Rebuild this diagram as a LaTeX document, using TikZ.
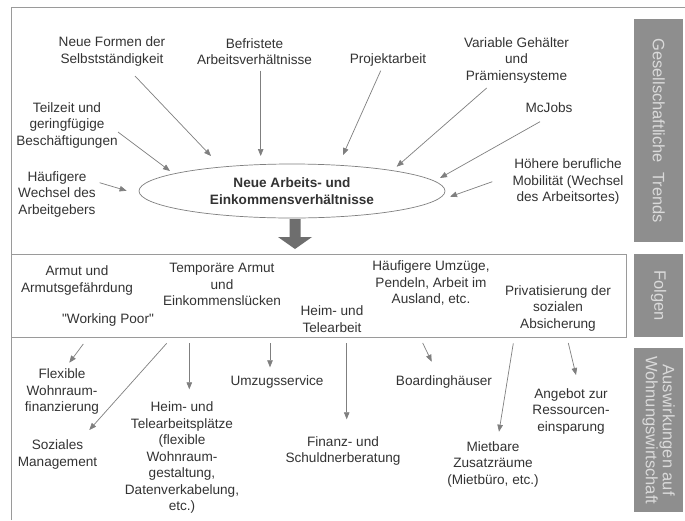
\documentclass[tikz,border=0pt]{standalone}
\usepackage{fontspec}
\setmainfont{Liberation Sans}
\newfontfamily\plainq{Liberation Sans}[Ligatures=TeXOff]
\usetikzlibrary{arrows.meta,shapes.geometric}
\definecolor{txt}{HTML}{333333}
\definecolor{arr}{HTML}{7F7F7F}
\definecolor{sidefill}{HTML}{8E8E8E}
\definecolor{sidetxt}{HTML}{DADADA}
\definecolor{framec}{HTML}{9A9A9A}
\definecolor{bigarr}{HTML}{6E6E6E}
\begin{document}
\begin{tikzpicture}[x=1pt,y=-1pt,
  lbl/.style={align=center,inner sep=0pt,text=txt,font=\fontsize{13.6}{16.5}\selectfont},
  conn/.style={draw=arr,line width=0.7pt,-{Triangle[length=7pt,width=5.5pt]}},
  sidebox/.style={fill=sidefill,draw=none,anchor=north west,inner sep=0pt,minimum width=49pt},
  sidelbl/.style={rotate=-90,text=sidetxt,font=\fontsize{16.5}{17}\selectfont,align=center,inner sep=0pt}]
\useasboundingbox (0,0) rectangle (685,520);
\fill[white] (0,0) rectangle (685,520);
% frame
\draw[framec,line width=0.8pt] (11,520) -- (11,7) -- (685,7);
% side boxes
\node[sidebox,minimum height=223pt] (g1) at (634,19) {};
\node[sidebox,minimum height=83pt] (g2) at (634,254) {};
\node[sidebox,minimum height=164pt] (g3) at (634,348) {};
\node[sidelbl] (g1t) at (g1.center) {Gesellschaftliche\ \ Trends};
\node[sidelbl] (g2t) at (g2.center) {Folgen};
\node[sidelbl] (g3t) at (g3.center) {Auswirkungen auf\\Wohnungswirtschaft};
% Folgen box
\node[draw=framec,line width=0.8pt,fill=white,anchor=north west,inner sep=0pt,minimum width=615pt,minimum height=83pt] (fb) at (11,254) {};
% top texts
\node[lbl] (nf) at (112,51.5) {Neue Formen der\\Selbstständigkeit};
\node[lbl] (bf) at (254.5,51.5) {Befristete\\Arbeitsverhältnisse};
\node[lbl] (pa) at (388,60) {Projektarbeit};
\node[lbl] (vg) at (516.5,60) {Variable Gehälter\\und\\Prämiensysteme};
\node[lbl] (mc) at (549,108) {McJobs};
\node[lbl] (tz) at (67,125) {Teilzeit und\\geringfügige\\Beschäftigungen};
\node[lbl] (hw) at (57,194) {Häufigere\\Wechsel des\\Arbeitgebers};
\node[lbl] (hm) at (568,181.5) {Höhere berufliche\\Mobilität (Wechsel\\des Arbeitsortes)};
\node[ellipse,draw=arr,line width=0.7pt,minimum width=306pt,minimum height=54pt,inner sep=0pt,align=center,text=txt,font=\bfseries\fontsize{13.6}{17}\selectfont] (el) at (292,191) {Neue Arbeits- und\\Einkommensverhältnisse};
% top arrow coordinates
\coordinate (a1s) at (135,76);   \coordinate (a1e) at (211,156);
\coordinate (a2s) at (260.7,70.7); \coordinate (a2e) at (260.7,156);
\coordinate (a3s) at (380.7,70.7); \coordinate (a3e) at (343,155);
\coordinate (a4s) at (486.7,88); \coordinate (a4e) at (396.7,166.7);
\coordinate (a5s) at (540,121.7); \coordinate (a5e) at (440,178);
\coordinate (a6s) at (118,132); \coordinate (a6e) at (170,171);
\coordinate (a7s) at (99.6,182.7); \coordinate (a7e) at (126.6,190.7);
\coordinate (a8s) at (492.3,181.7); \coordinate (a8e) at (450,196.7);
\foreach \i in {1,...,8} {\draw[conn] (a\i s) -- (a\i e);}
% big arrow
\fill[bigarr] (289.5,219) -- (300.5,219) -- (300.5,237) -- (312,237) -- (295,249) -- (278,237) -- (289.5,237) -- cycle;
% Folgen texts
\node[lbl] (am) at (77,280.5) {Armut und\\Armutsgefährdung};
\node[lbl] (wp) at (108,320) {\plainq "Working Poor"};
\node[lbl] (ta) at (222,284.5) {Temporäre Armut\\und\\Einkommenslücken};
\node[lbl] (ht) at (332,319) {Heim- und\\Telearbeit};
\node[lbl] (hu) at (431,283) {Häufigere Umzüge,\\Pendeln, Arbeit im\\Ausland, etc.};
\node[lbl] (pr) at (558,308) {Privatisierung der\\sozialen\\Absicherung};
% bottom texts
\node[lbl] (fw) at (62,391.5) {Flexible\\Wohnraum-\\finanzierung};
\node[lbl] (sm) at (57.5,454.7) {Soziales\\Management};
\node[lbl] (hp) at (182,457.5) {Heim- und\\Telearbeitsplätze\\(flexible\\Wohnraum-\\gestaltung,\\Datenverkabelung,\\etc.)};
\node[lbl] (us) at (277,381.7) {Umzugsservice};
\node[lbl] (fs) at (343,451) {Finanz- und\\Schuldnerberatung};
\node[lbl] (bh) at (444,381.7) {Boardinghäuser};
\node[lbl] (mz) at (493,464) {Mietbare\\Zusatzräume\\(Mietbüro, etc.)};
\node[lbl] (ar) at (571,411) {Angebot zur\\Ressourcen-\\einsparung};
% bottom arrows
\coordinate (b1s) at (83.3,344);   \coordinate (b1e) at (69.3,362.7);
\coordinate (b2s) at (166.7,343.3); \coordinate (b2e) at (89.3,430);
\coordinate (b3s) at (189.3,343); \coordinate (b3e) at (189.3,389.3);
\coordinate (b4s) at (270,343); \coordinate (b4e) at (270,367.3);
\coordinate (b5s) at (346.7,343); \coordinate (b5e) at (346.7,419.3);
\coordinate (b6s) at (422.7,343); \coordinate (b6e) at (431.7,361.7);
\coordinate (b7s) at (513.3,343.3); \coordinate (b7e) at (499,431.7);
\coordinate (b8s) at (568.3,343); \coordinate (b8e) at (576,375);
\foreach \i in {1,...,8} {\draw[conn] (b\i s) -- (b\i e);}
\end{tikzpicture}
\end{document}
